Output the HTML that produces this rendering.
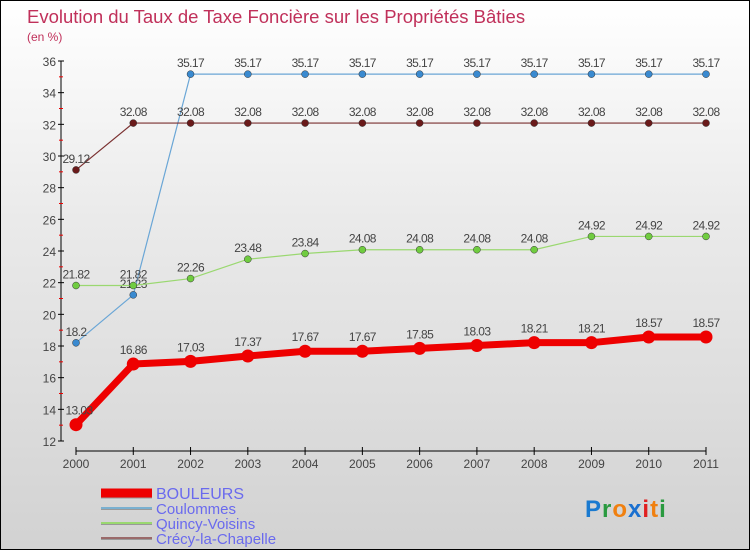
<!DOCTYPE html>
<html><head><meta charset="utf-8"><style>
body{margin:0}
#c{width:748px;height:548px;border:1px solid #000;background:linear-gradient(#ffffff 0%,#eaeaea 40%,#d2d2d2 100%);position:relative;font-family:"Liberation Sans",sans-serif;overflow:hidden}
</style></head><body>
<div id="c">
<svg id="s" width="748" height="548" xmlns="http://www.w3.org/2000/svg"></svg>
</div>
<script>
const years=["2000","2001","2002","2003","2004","2005","2006","2007","2008","2009","2010","2011"];
const bouleurs=[13.03,16.86,17.03,17.37,17.67,17.67,17.85,18.03,18.21,18.21,18.57,18.57];
const coulommes=[18.2,21.23,35.17,35.17,35.17,35.17,35.17,35.17,35.17,35.17,35.17,35.17];
const quincy=[21.82,21.82,22.26,23.48,23.84,24.08,24.08,24.08,24.08,24.92,24.92,24.92];
const crecy=[29.12,32.08,32.08,32.08,32.08,32.08,32.08,32.08,32.08,32.08,32.08,32.08];
const yTicks=[12,14,16,18,20,22,24,26,28,30,32,34,36];
const seriesNames=["BOULEURS","Coulommes","Quincy-Voisins","Crécy-la-Chapelle"];

const NS="http://www.w3.org/2000/svg";
const svg=document.getElementById('s');
function X(i){return 75+i*(705-75)/11;}
function Y(v){return 440-(v-12)*(380/24);}
function el(t,a,p){const e=document.createElementNS(NS,t);for(const k in a)e.setAttribute(k,a[k]);(p||svg).appendChild(e);return e;}

let t=el('text',{x:26,y:22,'font-size':18.5,fill:'#c0305a'});t.textContent="Evolution du Taux de Taxe Foncière sur les Propriétés Bâties";

t=el('text',{x:26,y:40,'font-size':12,fill:'#c0305a'});t.textContent="(en %)";


let ax=el('line',{x1:60,y1:60,x2:60,y2:440,stroke:'#000'});

yTicks.forEach(v=>{
 el('line',{x1:57,y1:Y(v),x2:63,y2:Y(v),stroke:'#000'});
 if(v<36) el('line',{x1:58,y1:Y(v+1),x2:62,y2:Y(v+1),stroke:'#e00'});
 const l=el('text',{x:55,y:Y(v)+5,'font-size':12,fill:'#444','text-anchor':'end'});l.textContent=v;
 
});
ax=el('line',{x1:75,y1:450,x2:705,y2:450,stroke:'#000'});

years.forEach((y,i)=>{
 el('line',{x1:X(i),y1:446,x2:X(i),y2:454,stroke:'#000'});
 const l=el('text',{x:X(i),y:467,'font-size':12,fill:'#444','text-anchor':'middle'});l.textContent=y;
 
});

function series(data,color,dot,w,r,name){
 const g=el('g',{});
 
 el('polyline',{points:data.map((v,i)=>X(i)+','+Y(v)).join(' '),fill:'none',stroke:color,'stroke-width':w,'stroke-linejoin':'round'},g);
 data.forEach((v,i)=>{
  const c=el('circle',{cx:X(i),cy:Y(v),r:r,fill:dot,stroke:'#333','stroke-width':r>5?0:0.5},g);
  
  const l=el('text',{x:X(i)+(i==0&&name=='bouleurs'?3:0),y:Y(v)-(r>5?10:7),'font-size':12,fill:'#444','text-anchor':'middle','letter-spacing':'-0.6'},g);
  l.textContent=String(v);
  
 });
}
series(coulommes,'#6aa6d6','#3a8ad0',1.2,3.5,'coulommes');
series(crecy,'#7a3030','#6a1a1a',1.2,3.5,'crecy');
series(quincy,'#9ad870','#70cc40',1.2,3.5,'quincy');
series(bouleurs,'#ee0000','#ee0000',7,6.5,'bouleurs');

const lc=[['#ee0000',9],['#7ab0d0',2],['#9ad870',2],['#9a6a6a',2]];
seriesNames.forEach((n,i)=>{
 const y=492+i*15;
 const g=el('g',{});
 
 el('line',{x1:100,y1:y+1,x2:151,y2:y+1,stroke:'#999','stroke-width':lc[i][1]},g);
 el('line',{x1:100,y1:y,x2:151,y2:y,stroke:lc[i][0],'stroke-width':lc[i][1]},g);
 const l=el('text',{x:155,y:y+6,'font-size':i==0?16:15,fill:'#6a6aee'},g);l.textContent=n;
});
const lg=el('text',{x:584,y:516,'font-size':24,'font-weight':'bold','letter-spacing':'1'});

[['P','#1a7ad0'],['r','#2a9a40'],['o','#f08010'],['x','#1a70d0'],['i','#e02020'],['t','#f08010'],['i','#2a9a40']].forEach(([c,f])=>{const s=el('tspan',{fill:f},lg);s.textContent=c;});
</script>
</body></html>
